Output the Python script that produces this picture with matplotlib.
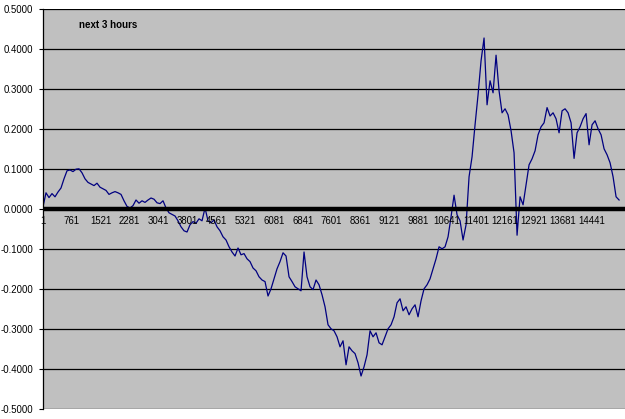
import matplotlib
matplotlib.use("Agg")
import matplotlib.pyplot as plt
import numpy as np

# Sampled series (every 79th point of the original ~15,200 points)
start_index = 1
sample_step = 79
values = [
    0.005, 0.040, 0.028, 0.038, 0.030, 0.042, 0.052, 0.075, 0.095, 0.097,
    0.093, 0.099, 0.100, 0.090, 0.075, 0.066, 0.062, 0.058, 0.064, 0.054,
    0.050, 0.046, 0.036, 0.040, 0.043, 0.040, 0.036, 0.020, 0.006, 0.002,
    0.008, 0.022, 0.014, 0.020, 0.016, 0.022, 0.027, 0.024, 0.015, 0.013,
    0.020, 0.002, -0.010, -0.014, -0.018, -0.030, -0.045, -0.055, -0.058, -0.040,
    -0.032, -0.036, -0.025, -0.030, 0.002, -0.030, -0.035, -0.028, -0.045, -0.055,
    -0.070, -0.078, -0.095, -0.108, -0.118, -0.098, -0.115, -0.112, -0.125, -0.132,
    -0.148, -0.155, -0.170, -0.178, -0.182, -0.218, -0.200, -0.175, -0.150, -0.132,
    -0.110, -0.118, -0.170, -0.182, -0.195, -0.200, -0.205, -0.108, -0.170, -0.195,
    -0.202, -0.178, -0.190, -0.215, -0.245, -0.290, -0.300, -0.305, -0.320, -0.345,
    -0.330, -0.390, -0.345, -0.355, -0.362, -0.385, -0.418, -0.395, -0.365, -0.305,
    -0.320, -0.310, -0.335, -0.340, -0.320, -0.300, -0.290, -0.270, -0.235, -0.225,
    -0.255, -0.245, -0.265, -0.250, -0.240, -0.270, -0.230, -0.200, -0.190, -0.175,
    -0.150, -0.125, -0.095, -0.100, -0.095, -0.070, -0.020, 0.034, -0.015, -0.030,
    -0.078, -0.040, 0.080, 0.130, 0.210, 0.285, 0.370, 0.427, 0.260, 0.320,
    0.290, 0.384, 0.295, 0.240, 0.250, 0.235, 0.195, 0.140, -0.066, 0.030,
    0.010, 0.060, 0.110, 0.125, 0.145, 0.185, 0.205, 0.215, 0.253, 0.232,
    0.240, 0.225, 0.190, 0.245, 0.250, 0.240, 0.215, 0.126, 0.190, 0.205,
    0.225, 0.238, 0.160, 0.210, 0.220, 0.200, 0.185, 0.150, 0.135, 0.115,
    0.080, 0.030, 0.022,
]
x_tick_labels = ["1", "761", "1521", "2281", "3041", "3801", "4561", "5321",
                 "6081", "6841", "7601", "8361", "9121", "9881", "10641",
                 "11401", "12161", "12921", "13681", "14441"]
y_ticks = [0.5, 0.4, 0.3, 0.2, 0.1, 0.0, -0.1, -0.2, -0.3, -0.4, -0.5]
title_text = "next 3 hours"

plt.rcParams['font.family'] = ['Liberation Sans', 'DejaVu Sans']

W, H = 625, 419
fig = plt.figure(figsize=(W / 100, H / 100), dpi=100)
fig.patch.set_facecolor('white')
ax = fig.add_axes([43 / W, 10.2 / H, 1 - 43 / W, 400 / H])
ax.set_facecolor('#C0C0C0')

idx = start_index + sample_step * np.arange(len(values))
ax.set_xlim(1, 1 + 582 * 26.33)
ax.set_ylim(-0.5, 0.5)

for y in y_ticks:
    if y == 0:
        continue
    ax.axhline(y, color='black', lw=0.9, zorder=1)
ax.axhline(0, color='black', lw=3.2, zorder=3)

ax.plot(idx, values, color='#000080', lw=0.9, zorder=2)

ax.set_yticks(y_ticks)
ax.set_yticklabels([f"{v:.4f}" for v in y_ticks], fontsize=6.9)
ax.tick_params(axis='y', direction='out', length=3, width=0.8, pad=4)
ax.set_xticks([])
for s in ['top', 'right', 'bottom']:
    ax.spines[s].set_visible(False)
ax.spines['left'].set_linewidth(0.9)

tick_pos = [int(t) for t in x_tick_labels]
for t, lab in zip(tick_pos, x_tick_labels):
    ax.annotate(lab, xy=(t, 0), xytext=(0, -5), textcoords='offset points',
                ha='center', va='top', fontsize=6.9, zorder=4)

ax.text((79 - 43) / 582, (419 - 25 - 10.2) / 400, title_text,
        transform=ax.transAxes, fontsize=7, fontweight='bold',
        ha='left', va='center')

fig.savefig('out.png', dpi=100)
